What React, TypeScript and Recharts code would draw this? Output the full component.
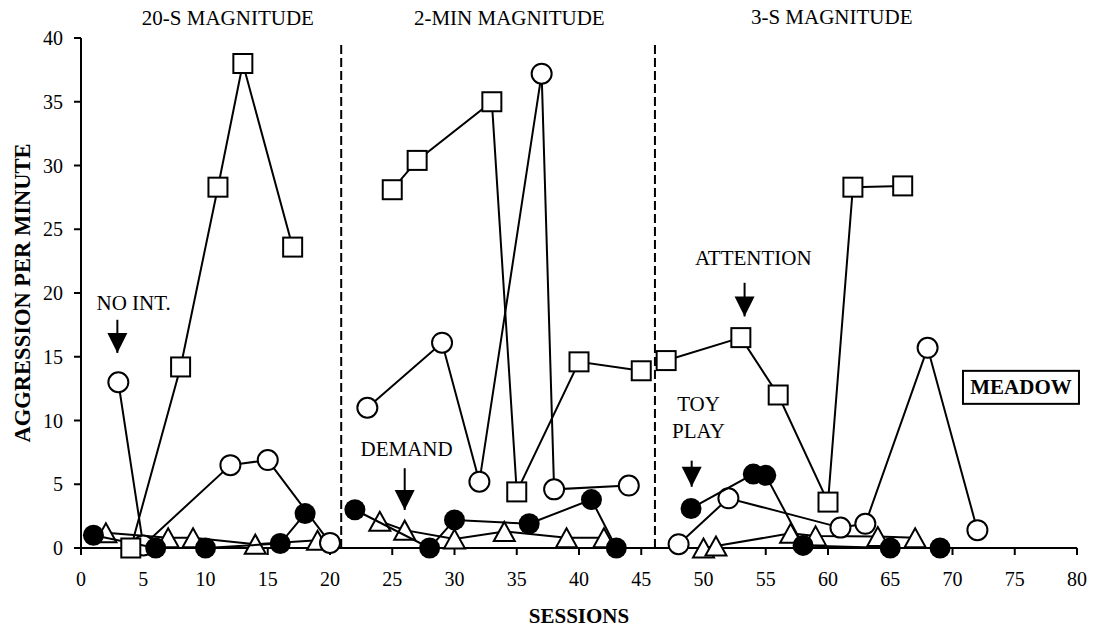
import React from "react";
import {
    ScatterChart,
    Scatter,
    XAxis,
    YAxis,
    ReferenceLine,
    ReferenceDot,
} from "recharts";

// sessions / aggregation per minute, split by phase so lines break at phase changes
const noIntP1 = [
    { x: 3, y: 13.0 }, { x: 5, y: 0.2 }, { x: 12, y: 6.5 }, { x: 15, y: 6.9 }, { x: 20, y: 0.4 },
];
const noIntP2 = [
    { x: 23, y: 11.0 }, { x: 29, y: 16.1 }, { x: 32, y: 5.2 }, { x: 37, y: 37.2 }, { x: 38, y: 4.6 }, { x: 44, y: 4.9 },
];
const noIntP3 = [
    { x: 48, y: 0.3 }, { x: 52, y: 3.9 }, { x: 61, y: 1.6 }, { x: 63, y: 1.9 }, { x: 68, y: 15.7 }, { x: 72, y: 1.4 },
];

const attentionP1 = [
    { x: 4, y: 0 }, { x: 8, y: 14.2 }, { x: 11, y: 28.3 }, { x: 13, y: 38.0 }, { x: 17, y: 23.6 },
];
const attentionP2 = [
    { x: 25, y: 28.1 }, { x: 27, y: 30.4 }, { x: 33, y: 35.0 }, { x: 35, y: 4.4 }, { x: 40, y: 14.6 }, { x: 45, y: 13.9 },
];
const attentionP3 = [
    { x: 47, y: 14.7 }, { x: 53, y: 16.5 }, { x: 56, y: 12.0 }, { x: 60, y: 3.6 }, { x: 62, y: 28.3 }, { x: 66, y: 28.4 },
];

const toyPlayP1 = [
    { x: 1, y: 1.0 }, { x: 6, y: 0 }, { x: 10, y: 0 }, { x: 16, y: 0.35 }, { x: 18, y: 2.7 },
];
const toyPlayP2 = [
    { x: 22, y: 3.0 }, { x: 28, y: 0 }, { x: 30, y: 2.2 }, { x: 36, y: 1.9 }, { x: 41, y: 3.8 }, { x: 43, y: 0 },
];
const toyPlayP3 = [
    { x: 49, y: 3.1 }, { x: 54, y: 5.8 }, { x: 55, y: 5.7 }, { x: 58, y: 0.2 }, { x: 65, y: 0 }, { x: 69, y: 0 },
];

const demandP1 = [
    { x: 2, y: 1.2 }, { x: 7, y: 0.8 }, { x: 9, y: 0.8 }, { x: 14, y: 0.3 }, { x: 19, y: 0.6 },
];
const demandP2 = [
    { x: 24, y: 2.1 }, { x: 26, y: 1.4 }, { x: 30, y: 0.7 }, { x: 34, y: 1.3 }, { x: 39, y: 0.8 }, { x: 42, y: 0.8 },
];
const demandP3 = [
    { x: 50, y: 0 }, { x: 51, y: 0.15 }, { x: 57, y: 1.15 }, { x: 59, y: 0.95 }, { x: 64, y: 0.9 }, { x: 67, y: 0.8 },
];

const xTicks = [0, 5, 10, 15, 20, 25, 30, 35, 40, 45, 50, 55, 60, 65, 70, 75, 80];
const yTicks = [0, 5, 10, 15, 20, 25, 30, 35, 40];

const phaseLines = [20.9, 46.1];
const phaseLabels = [
    { text: "20-S MAGNITUDE", x: 11.8, y: 41.05 },
    { text: "2-MIN MAGNITUDE", x: 34.4, y: 41.05 },
    { text: "3-S MAGNITUDE", x: 60.3, y: 41.1 },
];

const noteLabels = [
    { text: "NO INT.", x: 4.23, y: 18.7 },
    { text: "DEMAND", x: 26.15, y: 7.2 },
    { text: "ATTENTION", x: 54.0, y: 22.2 },
    { text: "TOY", x: 49.6, y: 10.75 },
    { text: "PLAY", x: 49.6, y: 8.66 },
];

const arrows = [
    { x: 2.92, from: 17.9, to: 15.3 },
    { x: 26.0, from: 6.26, to: 2.98 },
    { x: 53.3, from: 20.8, to: 18.16 },
    { x: 49.05, from: 6.85, to: 4.8 },
];

const FONT = "'Liberation Serif', 'Times New Roman', serif";

const Square = (p: any) => (
    <rect x={p.cx - 9.5} y={p.cy - 9.5} width={19} height={19} fill="#fff" stroke="#000" strokeWidth={2} />
);
const OpenCircle = (p: any) => <circle cx={p.cx} cy={p.cy} r={10} fill="#fff" stroke="#000" strokeWidth={2} />;
const FilledCircle = (p: any) => <circle cx={p.cx} cy={p.cy} r={10.5} fill="#000" stroke="none" />;
const Triangle = (p: any) => (
    <polygon
        points={`${p.cx - 10.5},${p.cy + 9.5} ${p.cx + 10.5},${p.cy + 9.5} ${p.cx},${p.cy - 9.5}`}
        fill="#fff"
        stroke="#000"
        strokeWidth={2}
        strokeLinejoin="miter"
    />
);

const lineStyle = { stroke: "#000", strokeWidth: 2 };

const series = [
    { data: demandP1, shape: Triangle },
    { data: demandP2, shape: Triangle },
    { data: demandP3, shape: Triangle },
    { data: noIntP1, shape: OpenCircle },
    { data: noIntP2, shape: OpenCircle },
    { data: noIntP3, shape: OpenCircle },
    { data: toyPlayP1, shape: FilledCircle },
    { data: toyPlayP2, shape: FilledCircle },
    { data: toyPlayP3, shape: FilledCircle },
    { data: attentionP1, shape: Square },
    { data: attentionP2, shape: Square },
    { data: attentionP3, shape: Square },
];

const YLabel = (p: any) => {
    const vb = p.viewBox || { x: 0, y: 38, width: 81, height: 510 };
    const cx = vb.x + 22;
    const cy = vb.y + vb.height / 2;
    return (
        <text
            x={cx}
            y={cy}
            transform={`rotate(-90, ${cx}, ${cy})`}
            textAnchor="middle"
            dominantBaseline="central"
            fontFamily={FONT}
            fontWeight="bold"
            fontSize={22.5}
            fill="#000"
        >
            AGGRESSION PER MINUTE
        </text>
    );
};

const XLabel = (p: any) => {
    const vb = p.viewBox || { x: 81, y: 548, width: 996, height: 84 };
    return (
        <text
            x={vb.x + vb.width / 2}
            y={vb.y + 75}
            textAnchor="middle"
            fontFamily={FONT}
            fontWeight="bold"
            fontSize={21}
            fill="#000"
        >
            SESSIONS
        </text>
    );
};

export default function App() {
    return (
        <div style={{ position: "absolute", left: 0, top: 0, background: "#fff" }}>
            <ScatterChart width={1098} height={632} margin={{ top: 38, right: 21, bottom: 0, left: 0 }}>
                <XAxis
                    type="number"
                    dataKey="x"
                    domain={[0, 80]}
                    ticks={xTicks}
                    interval={0}
                    height={84}
                    tickSize={7}
                    tickMargin={17}
                    axisLine={{ stroke: "#000", strokeWidth: 2 }}
                    tickLine={{ stroke: "#000", strokeWidth: 2 }}
                    tick={{ fontFamily: FONT, fontSize: 20, fill: "#000" }}
                    label={{ content: (p: any) => <XLabel {...p} /> }}
                />
                <YAxis
                    type="number"
                    dataKey="y"
                    domain={[0, 40]}
                    ticks={yTicks}
                    interval={0}
                    width={81}
                    tickSize={7}
                    tickMargin={11}
                    axisLine={{ stroke: "#000", strokeWidth: 2 }}
                    tickLine={{ stroke: "#000", strokeWidth: 2 }}
                    tick={{ fontFamily: FONT, fontSize: 20, fill: "#000" }}
                    label={{ content: (p: any) => <YLabel {...p} /> }}
                />

                {phaseLines.map((x) => (
                    <ReferenceLine
                        key={"ph" + x}
                        segment={[{ x, y: 0 }, { x, y: 39.6 }]}
                        stroke="#000"
                        strokeWidth={2}
                        strokeDasharray="9 4"
                        ifOverflow="visible"
                    />
                ))}

                {series.map((s, i) => (
                    <Scatter
                        key={i}
                        data={s.data}
                        line={lineStyle}
                        lineType="joint"
                        shape={s.shape}
                        isAnimationActive={false}
                    />
                ))}

                {arrows.map((a, i) => (
                    <ReferenceLine
                        key={"as" + i}
                        segment={[{ x: a.x, y: a.from }, { x: a.x, y: a.to }]}
                        stroke="#000"
                        strokeWidth={2}
                        ifOverflow="visible"
                    />
                ))}
                {arrows.map((a, i) => (
                    <ReferenceDot
                        key={"ah" + i}
                        x={a.x}
                        y={a.to}
                        ifOverflow="visible"
                        shape={(p: any) => (
                            <polygon
                                points={`${p.cx - 10},${p.cy - 20} ${p.cx + 10},${p.cy - 20} ${p.cx},${p.cy}`}
                                fill="#000"
                            />
                        )}
                    />
                ))}

                {[...phaseLabels, ...noteLabels].map((t) => (
                    <ReferenceDot
                        key={t.text}
                        x={t.x}
                        y={t.y}
                        ifOverflow="visible"
                        shape={(p: any) => (
                            <text x={p.cx} y={p.cy} textAnchor="middle" fontFamily={FONT} fontSize={21} fill="#000">
                                {t.text}
                            </text>
                        )}
                    />
                ))}

                <ReferenceDot
                    x={75.5}
                    y={12.6}
                    ifOverflow="visible"
                    shape={(p: any) => (
                        <g>
                            <rect x={p.cx - 58} y={p.cy - 16.5} width={116} height={33} fill="#fff" stroke="#000" strokeWidth={2} />
                            <text
                                x={p.cx}
                                y={p.cy}
                                textAnchor="middle"
                                dominantBaseline="central"
                                fontFamily={FONT}
                                fontWeight="bold"
                                fontSize={21}
                                fill="#000"
                            >
                                MEADOW
                            </text>
                        </g>
                    )}
                />
            </ScatterChart>
        </div>
    );
}
